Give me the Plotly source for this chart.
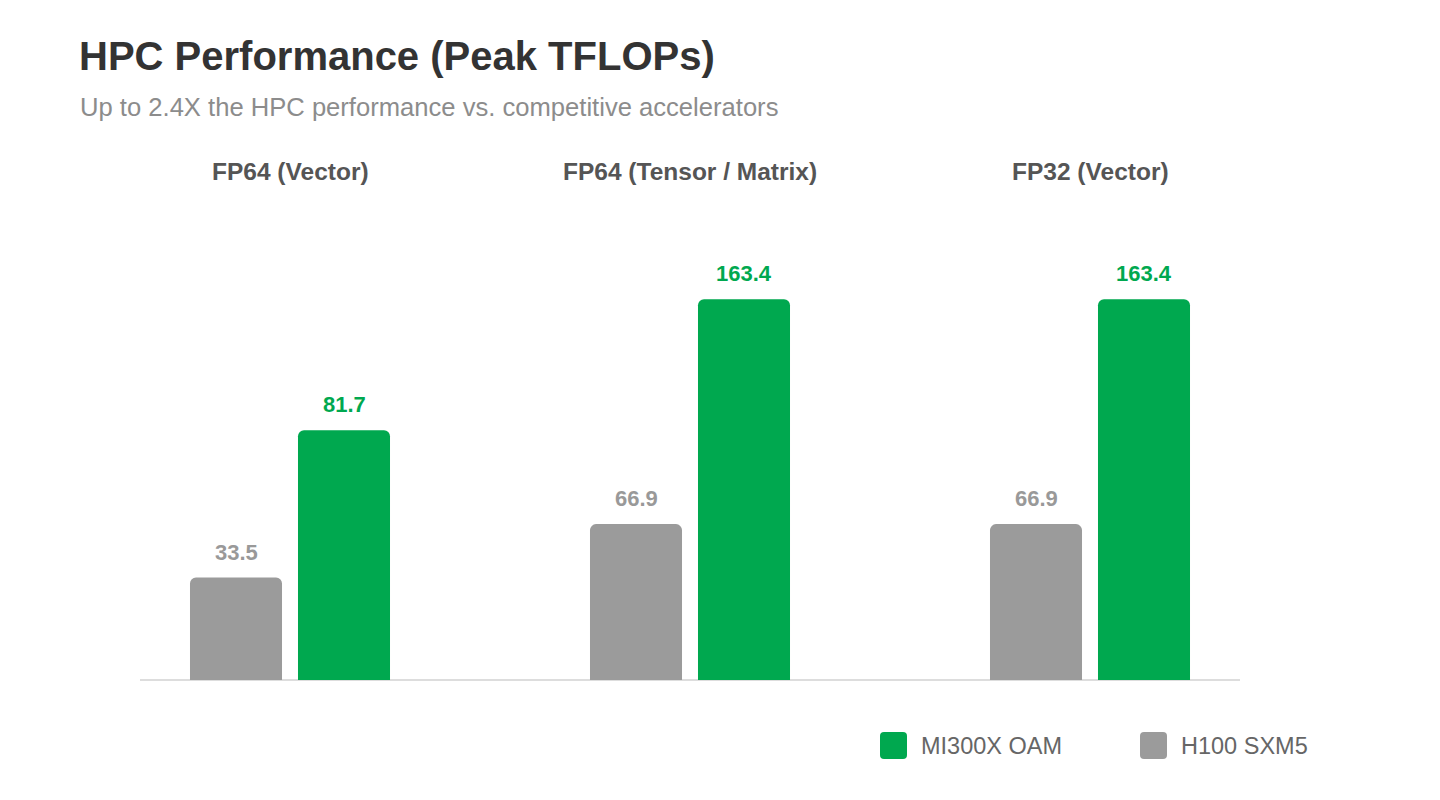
import plotly.graph_objects as go

# ---------------- data ----------------
categories = ["FP64 (Vector)", "FP64 (Tensor / Matrix)", "FP32 (Vector)"]
series_names = ["H100 SXM5", "MI300X OAM"]
h100_values = [33.5, 66.9, 66.9]
mi300x_values = [81.7, 163.4, 163.4]

title_text = "HPC Performance (Peak TFLOPs)"
subtitle_text = "Up to 2.4X the HPC performance vs. competitive accelerators"

# ---------------- style ----------------
W, H = 1440, 800
FONT = "Liberation Sans, Arial, Helvetica, sans-serif"
GREEN = "#00a84f"
GREY = "#9b9b9b"
GREY_TEXT = "#999999"
series_colors = [GREY, GREEN]
label_colors = [GREY_TEXT, GREEN]
group_centers_px = [290, 690, 1090]
group_half_width_px = 200
y_ranges = [[0, 157], [0, 206], [0, 206]]
plot_y_domain = [1 - 680 / H, 1 - 200 / H]

fig = go.Figure()
annotations = []
shapes = []

series_values = [h100_values, mi300x_values]

for i, cat in enumerate(categories):
    ax = "" if i == 0 else str(i + 1)
    for s, (name, vals) in enumerate(zip(series_names, series_values)):
        fig.add_trace(go.Bar(
            x=[cat], y=[vals[i]], name=name,
            marker=dict(color=series_colors[s], cornerradius=6, line=dict(width=0)),
            offsetgroup=str(s), showlegend=False,
            xaxis="x" + ax, yaxis="y" + ax,
            hovertemplate=name + ": %{y}<extra></extra>",
        ))
        annotations.append(dict(
            x=cat, y=vals[i], xref="x" + ax, yref="y" + ax,
            text=f"{vals[i]:.1f}", showarrow=False,
            xshift=(-54 if s == 0 else 54), yshift=11, yanchor="bottom",
            font=dict(family=FONT, size=22, color=label_colors[s], weight="bold"),
        ))
    c = group_centers_px[i]
    fig.layout["xaxis" + ax] = dict(
        domain=[(c - group_half_width_px) / W, (c + group_half_width_px) / W],
        range=[-0.5, 0.5], type="category", visible=False, anchor="y" + ax,
        fixedrange=True,
    )
    fig.layout["yaxis" + ax] = dict(
        domain=plot_y_domain, range=y_ranges[i], visible=False,
        anchor="x" + ax, fixedrange=True,
    )
    annotations.append(dict(
        x=0.5, xref="x" + ax + " domain", y=1 - 172 / H, yref="paper",
        text=cat, showarrow=False, xanchor="center", yanchor="middle",
        font=dict(family=FONT, size=24.5, color="#555555", weight="bold"),
    ))

# baseline
shapes.append(dict(type="line", xref="paper", yref="paper",
                   x0=140 / W, x1=1240 / W, y0=plot_y_domain[0], y1=plot_y_domain[0],
                   line=dict(color="#dddddd", width=2), layer="below"))

# subtitle
annotations.append(dict(
    x=78 / W, y=1 - 107 / H, xref="paper", yref="paper", text=subtitle_text,
    showarrow=False, xanchor="left", yanchor="middle",
    font=dict(family=FONT, size=25.6, color="#8c8c8c"),
))


# custom legend (rounded swatches + labels)
def rounded_rect(x0, y0, x1, y1, r):
    # pixel coords (top-left origin) -> paper path
    def px(x):
        return x / W

    def py(y):
        return 1 - y / H
    return (f"M {px(x0 + r)} {py(y0)} L {px(x1 - r)} {py(y0)} "
            f"Q {px(x1)} {py(y0)} {px(x1)} {py(y0 + r)} "
            f"L {px(x1)} {py(y1 - r)} Q {px(x1)} {py(y1)} {px(x1 - r)} {py(y1)} "
            f"L {px(x0 + r)} {py(y1)} Q {px(x0)} {py(y1)} {px(x0)} {py(y1 - r)} "
            f"L {px(x0)} {py(y0 + r)} Q {px(x0)} {py(y0)} {px(x0 + r)} {py(y0)} Z")


legend_order = [1, 0]
legend_x_px = [880, 1140]
for k, s in enumerate(legend_order):
    x0 = legend_x_px[k]
    shapes.append(dict(type="path", xref="paper", yref="paper",
                       path=rounded_rect(x0, 732, x0 + 27, 759, 4),
                       fillcolor=series_colors[s], line=dict(width=0)))
    annotations.append(dict(
        x=(x0 + 39) / W, y=1 - 746 / H, xref="paper", yref="paper",
        text=series_names[s], showarrow=False, xanchor="left", yanchor="middle",
        font=dict(family=FONT, size=23.5, color="#666666"),
    ))

fig.update_layout(
    width=W, height=H,
    margin=dict(l=0, r=0, t=0, b=0),
    paper_bgcolor="white", plot_bgcolor="white",
    barmode="group", bargap=0.46, bargroupgap=0.148,
    title=dict(text=title_text, x=79 / W, xanchor="left", xref="paper",
               y=1 - 56 / H, yanchor="middle", yref="container",
               font=dict(family=FONT, size=40, color="#333333", weight="bold")),
    annotations=annotations, shapes=shapes,
    showlegend=False,
    font=dict(family=FONT),
)

fig.write_html("out.html", config={"displayModeBar": False})
